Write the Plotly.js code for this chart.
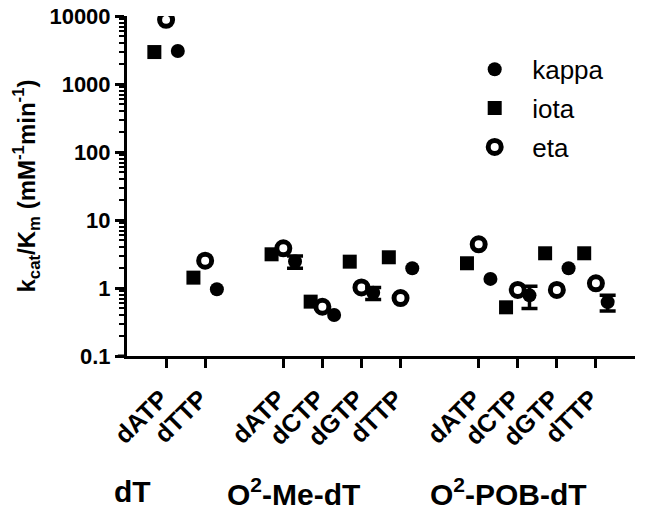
<!DOCTYPE html>
<html>
<head>
<meta charset="utf-8">
<script src="https://cdn.plot.ly/plotly-3.0.1.min.js"></script>
<style>html,body{margin:0;padding:0;background:#fff;}#chart{width:645px;height:508px;}</style>
</head>
<body>
<div id="chart"></div>
<script>
// category positions and labels
var positions = [1, 2, 4, 5, 6, 7, 9, 10, 11, 12];
var tickLabels = ['dATP', 'dTTP', 'dATP', 'dCTP', 'dGTP', 'dTTP', 'dATP', 'dCTP', 'dGTP', 'dTTP'];
var groupLabels = ['dT', 'O<sup>2</sup>-Me-dT', 'O<sup>2</sup>-POB-dT'];
var groupCenters = [0.14, 4.25, 9.75];

// series values (kcat/Km, mM^-1 min^-1)
var kappa    = [3050, 0.96, 2.45, 0.40, 0.85, 1.95, 1.36, 0.78, 1.95, 0.62];
var kappaErr = [NaN, NaN, 0.50, NaN, 0.17, NaN, NaN, 0.28, NaN, 0.16];
var iota     = [2950, 1.42, 3.13, 0.63, 2.44, 2.83, 2.31, 0.52, 3.24, 3.24];
var eta      = [8800, 2.52, 3.84, 0.53, 1.02, 0.71, 4.39, 0.935, 0.935, 1.17];

var FONT = 'Arial, "Liberation Sans", Helvetica, sans-serif';
function shift(arr, d) { return arr.map(function (v) { return v + d; }); }

var traces = [
  {
    name: 'kappa', legendgroup: 'a', type: 'scatter', mode: 'markers',
    x: shift(positions, 0.3), y: kappa,
    marker: {symbol: 'circle', size: 14, color: '#000'},
    error_y: {type: 'data', array: kappaErr, visible: true, color: '#000', thickness: 3.5, width: 8}
  },
  {
    name: 'iota', legendgroup: 'b', type: 'scatter', mode: 'markers',
    x: shift(positions, -0.3), y: iota,
    marker: {symbol: 'square', size: 14, color: '#000'}
  },
  {
    name: 'eta', legendgroup: 'c', type: 'scatter', mode: 'markers',
    x: positions, y: eta,
    marker: {symbol: 'circle-open', size: 13, color: '#000', line: {width: 5, color: '#000'}}
  }
];

var annotations = groupLabels.map(function (t, i) {
  return {
    text: t, x: groupCenters[i], xref: 'x', y: -0.40, yref: 'paper',
    xanchor: 'center', yanchor: 'middle', showarrow: false,
    font: {family: FONT, size: 30, color: '#000', weight: 'bold'}
  };
});

var layout = {
  width: 645, height: 508,
  margin: {l: 127, r: 10, t: 16, b: 152},
  paper_bgcolor: '#fff', plot_bgcolor: '#fff',
  font: {family: FONT, color: '#000'},
  showlegend: true,
  legend: {
    x: 0.65, y: 0.912, xanchor: 'left', yanchor: 'top',
    font: {family: FONT, size: 26, color: '#000'},
    bgcolor: 'rgba(0,0,0,0)', tracegroupgap: 2, traceorder: 'grouped',
    itemwidth: 65
  },
  xaxis: {
    range: [0, 13], showgrid: false, zeroline: false,
    showline: true, linecolor: '#000', linewidth: 3,
    ticks: 'outside', ticklen: 9, tickwidth: 3, tickcolor: '#000',
    tickmode: 'array', tickvals: positions, ticktext: tickLabels,
    tickangle: -45, ticklabelstandoff: 6, ticklabelshift: -5,
    tickfont: {family: FONT, size: 25, color: '#000', weight: 'bold'}
  },
  yaxis: {
    type: 'log', range: [-1, 4], showgrid: false, zeroline: false,
    showline: true, linecolor: '#000', linewidth: 3,
    ticks: 'outside', ticklen: 9, tickwidth: 3, tickcolor: '#000',
    tickmode: 'array', tickvals: [0.1, 1, 10, 100, 1000, 10000],
    ticktext: ['0.1', '1', '10', '100', '1000', '10000'],
    tickfont: {family: FONT, size: 22, color: '#000', weight: 'bold'},
    minor: {ticks: 'outside', ticklen: 5, tickwidth: 2, tickcolor: '#000', dtick: 'D1', showgrid: false},
    title: {
      text: 'k<sub>cat</sub>/K<sub>m</sub> (mM<sup>-1</sup>min<sup>-1</sup>)',
      font: {family: FONT, size: 24, color: '#000', weight: 'bold'},
      standoff: 8
    }
  },
  shapes: [
    {type: 'line', xref: 'paper', yref: 'paper', x0: -0.018, x1: 0, y0: 0, y1: 0,
     line: {color: '#000', width: 3}}
  ],
  annotations: annotations
};

Plotly.newPlot('chart', traces, layout, {displayModeBar: false, staticPlot: true});
</script>
</body>
</html>
